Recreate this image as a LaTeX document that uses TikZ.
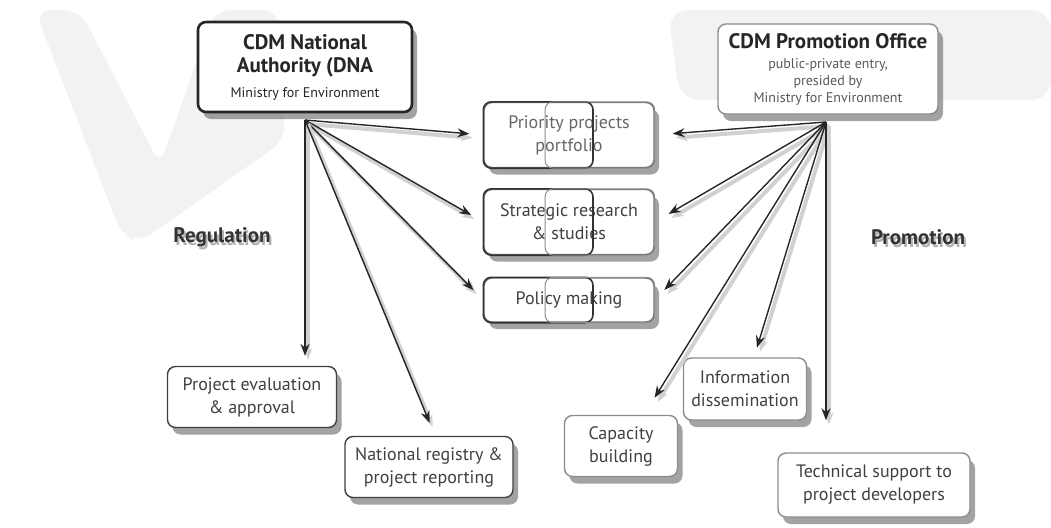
\documentclass[tikz,border=0pt]{standalone}
\usepackage{fontspec}
\setmainfont{PT Sans}
\usepackage{tikz}
\usetikzlibrary{arrows.meta,shadows}

\newcommand{\bigline}{\bfseries\fontsize{10.5}{11}\selectfont}
\newcommand{\smallline}{\fontsize{7}{8.5}\selectfont}

\begin{document}
\begin{tikzpicture}[x=0.5pt, y=-0.5pt, >={Stealth[length=6pt,width=4.5pt]},
  box/.style={rectangle, rounded corners=4pt, draw=black!55, line width=0.7pt, fill=white,
    align=center, text=black!75, font=\fontsize{9}{11.5}\selectfont,
    drop shadow={shadow xshift=2.5pt, shadow yshift=-3.5pt, opacity=0.6, fill=black!60}},
  head/.style={box, draw=black!85, line width=1.3pt, text=black!85},
  side/.style={font=\bfseries\fontsize{10.5}{12}\selectfont, text=black!80},
  sideshade/.style={font=\bfseries\fontsize{10.5}{12}\selectfont, text=black!30},
  link/.style={->, black!85, line width=0.7pt,
    preaction={draw, black!18, line width=2pt, transform canvas={shift={(1.5pt,-2pt)}}}}]
\useasboundingbox (0,0) rectangle (1051,527);
% watermark behind
\fill[black!5, rounded corners=8pt] (35,10) -- (80,10) -- (160,165) -- (215,10) -- (278,10)
  -- (285,140) -- (140,242) -- (122,236) -- cycle;
\fill[black!5, rounded corners=10pt] (668,10) -- (1051,10) -- (1051,100) -- (680,100) -- cycle;

% the two offices
\node (dna) [head, minimum width=107pt, minimum height=45pt] at (305,67)
  {\bigline CDM National\\\bigline Authority (DNA\\[1pt]
   \smallline Ministry for Environment};
\node (promo) [box, draw=black!45, text=black!85, font=\fontsize{7}{8.5}\selectfont,
  minimum width=110pt, minimum height=45pt] at (828,69)
  {\bigline CDM Promotion Office\\[1.5pt]
   \color{black!65} public-private entry,\\\color{black!65} presided by\\
   \color{black!65} Ministry for Environment};

% shared tasks in the middle
\node (prio) [box, minimum width=85pt, minimum height=32.5pt, text=black!60] at (569,135) {Priority projects\\portfolio};
\node (strat) [box, minimum width=85pt, minimum height=32.5pt] at (569,222) {Strategic research\\\& studies};
\node (pol) [box, minimum width=85pt, minimum height=22pt] at (569,300) {Policy making};
\foreach \m in {prio,strat,pol} {
  \draw[black!80, line width=0.8pt, rounded corners=4pt] (\m.south west) rectangle ([xshift=12pt]\m.north);
  \draw[black!45, line width=0.5pt, rounded corners=4pt] ([xshift=-12pt]\m.south) rectangle (\m.north east);
}

% regulation side
\node (eval) [box, draw=black!75, minimum width=84.5pt, minimum height=30.5pt] at (252,397) {Project evaluation\\\& approval};
\node (nat) [box, draw=black!75, minimum width=84pt, minimum height=30.5pt] at (429,467) {National registry \&\\project reporting};

% promotion side
\node (cap) [box, draw=black!45, minimum width=56.5pt, minimum height=30.5pt] at (621,446) {Capacity\\building};
\node (info) [box, draw=black!45, minimum width=61.5pt, minimum height=31pt] at (745,389) {Information\\dissemination};
\node (tech) [box, draw=black!45, minimum width=96pt, minimum height=32pt] at (874,485) {Technical support to\\project developers};

\node (regsh) [sideshade] at (224,240) {Regulation};
\node (reg) [side] at (222,237) {Regulation};
\node (promsh) [sideshade] at (920,240) {Promotion};
\node (prom) [side] at (918,237) {Promotion};

\coordinate (dnaS) at (305,120);
\coordinate (promoS) at (826,122);

\draw[link, shorten >=7pt] (dnaS) -- (prio.west);
\draw[link, shorten >=7pt] (dnaS) -- (strat.west);
\draw[link, shorten >=7pt] (dnaS) -- (pol.west);
\draw[link, shorten >=5pt] (dnaS) -- (dnaS |- eval.north);
\draw[link, shorten >=7pt] (dnaS) -- ([xshift=3pt]nat.north);

\draw[link, shorten >=9pt] (promoS) -- (prio.east);
\draw[link, shorten >=8pt] (promoS) -- (strat.east);
\draw[link, shorten >=7pt] (promoS) -- (pol.east);
\draw[link, shorten >=10pt] (promoS) -- ([xshift=11.5pt]cap.north);
\draw[link, shorten >=5pt] (promoS) -- ([xshift=4.5pt]info.north);
\draw[link, shorten >=16pt] (promoS) -- (promoS |- tech.north);
\end{tikzpicture}
\end{document}
